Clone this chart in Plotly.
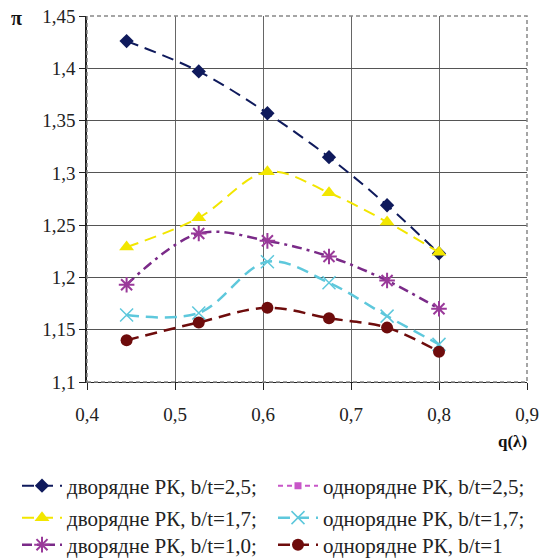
import plotly.graph_objects as go

q = [0.445, 0.527, 0.605, 0.675, 0.741, 0.800]
dv_25 = [1.426, 1.397, 1.357, 1.315, 1.269, 1.223]
dv_17 = [1.229, 1.257, 1.301, 1.281, 1.253, 1.224]
dv_10 = [1.193, 1.242, 1.235, 1.220, 1.197, 1.170]
od_17 = [1.164, 1.166, 1.215, 1.195, 1.163, 1.136]
od_10 = [1.140, 1.157, 1.171, 1.161, 1.152, 1.129]

names = ["дворядне РК, b/t=2,5;", "однорядне РК, b/t=2,5;",
         "дворядне РК, b/t=1,7;", "однорядне РК, b/t=1,7;",
         "дворядне РК, b/t=1,0;", "однорядне РК, b/t=1"]

x_ticks = [0.4, 0.5, 0.6, 0.7, 0.8, 0.9]
y_ticks = [1.1, 1.15, 1.2, 1.25, 1.3, 1.35, 1.4, 1.45]

FONT = "Liberation Serif"
fig = go.Figure()

fig.add_trace(go.Scatter(x=q, y=dv_25, name=names[0], mode="lines+markers", legend="legend",
    line=dict(color="#0f1a5c", width=2, dash="12px,7px", shape="spline"),
    marker=dict(symbol="diamond", size=11, color="#0f1a5c")))
fig.add_trace(go.Scatter(x=q, y=dv_17, name=names[2], mode="lines+markers", legend="legend3",
    line=dict(color="#f2e600", width=2, dash="12px,7px", shape="spline"),
    marker=dict(symbol="triangle-up", size=13, color="#f2e600")))
fig.add_trace(go.Scatter(x=q, y=dv_10, name=names[4], mode="lines+markers", legend="legend5",
    line=dict(color="#7a2a88", width=2.5, dash="10px,5px,3px,5px", shape="spline"),
    marker=dict(symbol="asterisk-open", size=13, color="#9a3a9a",
                line=dict(color="#9a3a9a", width=2))))
fig.add_trace(go.Scatter(x=[None], y=[None], name=names[1], mode="lines+markers", legend="legend2",
    line=dict(color="#c856c8", width=2, dash="5px,4px"),
    marker=dict(symbol="square", size=7, color="#c856c8")))
fig.add_trace(go.Scatter(x=q, y=od_17, name=names[3], mode="lines+markers", legend="legend4",
    line=dict(color="#5ec8dc", width=2.5, dash="12px,7px", shape="spline"),
    marker=dict(symbol="x-thin-open", size=13, color="#5ec8dc",
                line=dict(color="#5ec8dc", width=1.5))))
fig.add_trace(go.Scatter(x=q, y=od_10, name=names[5], mode="lines+markers", legend="legend6",
    line=dict(color="#6e0c0c", width=2.5, dash="12px,7px", shape="spline"),
    marker=dict(symbol="circle", size=12, color="#6e0c0c")))

W, H = 542, 558
ML, MR, MT, MB = 87, 15, 16, 176
PW, PH = W - ML - MR, H - MT - MB
col_px = [17, 273]
row_px = [486, 518, 545]


def leg(col, row):
    return dict(orientation="v", xref="paper", yref="paper",
                x=(col_px[col] - ML) / PW, y=(H - MB - row_px[row]) / PH,
                xanchor="left", yanchor="middle",
                font=dict(family=FONT, size=21, color="#222"),
                itemwidth=40, bgcolor="rgba(0,0,0,0)")

fig.update_layout(
    width=W, height=H,
    margin=dict(l=ML, r=MR, t=MT, b=MB, autoexpand=False),
    paper_bgcolor="white", plot_bgcolor="white",
    separators=", ",
    font=dict(family=FONT, size=18, color="#222"),
    showlegend=True,
    legend=leg(0, 0), legend2=leg(1, 0),
    legend3=leg(0, 1), legend4=leg(1, 1),
    legend5=leg(0, 2), legend6=leg(1, 2),
    xaxis=dict(range=[0.4, 0.9], tickvals=x_ticks, showgrid=True,
               gridcolor="#666", gridwidth=1, zeroline=False,
               showline=True, linecolor="#222", linewidth=1,
               ticks="outside", ticklen=7, tickcolor="#222",
               ticklabelstandoff=8,
               tickfont=dict(family=FONT, size=19, color="#222")),
    yaxis=dict(range=[1.1, 1.45], tickvals=y_ticks, showgrid=True,
               gridcolor="#555", gridwidth=1, zeroline=False,
               showline=True, linecolor="#222", linewidth=1.5,
               ticks="outside", ticklen=6, tickcolor="#222",
               tickfont=dict(family=FONT, size=19, color="#222")),
    shapes=[dict(type="rect", xref="paper", yref="paper", x0=0, y0=0, x1=1, y1=1,
                 line=dict(color="#888", width=1.5, dash="4px,3px"), layer="above")],
    annotations=[
        dict(text="<b>π</b>", xref="paper", yref="paper", x=(16 - ML) / PW, y=(H - MB - 18) / PH,
             xanchor="center", yanchor="middle", showarrow=False,
             font=dict(family=FONT, size=20, color="#111")),
        dict(text="<b>q(λ)</b>", xref="paper", yref="paper", x=1.005, y=(H - MB - 441) / PH,
             xanchor="right", yanchor="middle", showarrow=False,
             font=dict(family=FONT, size=17, color="#111")),
    ],
)

fig.write_html("out.html")
